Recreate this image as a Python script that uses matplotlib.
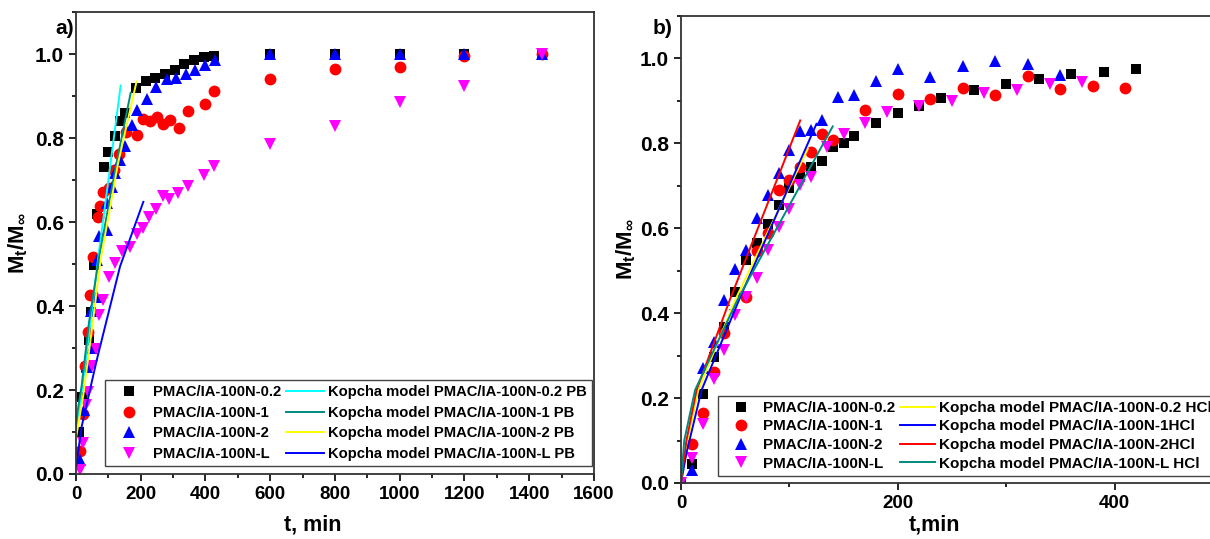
import matplotlib
matplotlib.use('Agg')
import matplotlib.pyplot as plt
from matplotlib.ticker import MultipleLocator

plt.rcParams['font.family'] = ['Liberation Sans', 'DejaVu Sans']
plt.rcParams['font.weight'] = 'bold'
plt.rcParams['mathtext.fontset'] = 'custom'
plt.rcParams['mathtext.rm'] = 'Liberation Sans'
plt.rcParams['mathtext.bf'] = 'Liberation Sans:bold'

# ---- panel a) data (PB) ----
a_t_02 = [10, 20, 30, 40, 45, 55, 65, 85, 100, 120, 135, 150, 185, 215, 245, 275, 305, 335, 365, 395, 425, 600, 800, 1000, 1200, 1440]
a_v_02 = [0.10, 0.184, 0.255, 0.319, 0.386, 0.498, 0.62, 0.73, 0.767, 0.804, 0.841, 0.859, 0.918, 0.936, 0.944, 0.952, 0.963, 0.976, 0.986, 0.992, 0.995, 1.0, 1.0, 1.0, 1.0, 1.0]
a_t_1 = [12, 23, 27, 38, 43, 54, 69, 74, 84, 103, 118, 134, 155, 187, 208, 228, 249, 270, 289, 318, 347, 398, 427, 600, 800, 1000, 1200, 1440]
a_v_1 = [0.055, 0.144, 0.257, 0.339, 0.426, 0.517, 0.613, 0.638, 0.672, 0.68, 0.724, 0.763, 0.815, 0.808, 0.845, 0.841, 0.849, 0.834, 0.843, 0.825, 0.864, 0.882, 0.912, 0.94, 0.964, 0.968, 0.995, 1.0]
a_t_2 = [12, 25, 35, 45, 48, 64, 66, 72, 95, 97, 110, 120, 136, 151, 172, 187, 218, 247, 280, 309, 340, 367, 398, 429, 600, 800, 1000, 1200, 1440]
a_v_2 = [0.033, 0.152, 0.255, 0.387, 0.30, 0.422, 0.51, 0.567, 0.58, 0.645, 0.684, 0.716, 0.748, 0.781, 0.831, 0.867, 0.892, 0.922, 0.94, 0.944, 0.952, 0.963, 0.974, 0.986, 1.0, 1.0, 1.0, 1.0, 1.0]
a_t_L = [12, 23, 31, 38, 51, 62, 72, 84, 103, 120, 143, 167, 187, 206, 226, 247, 268, 288, 316, 347, 396, 427, 600, 800, 1000, 1200, 1440]
a_v_L = [0.01, 0.073, 0.164, 0.196, 0.257, 0.297, 0.379, 0.414, 0.47, 0.503, 0.531, 0.541, 0.571, 0.585, 0.613, 0.63, 0.662, 0.654, 0.67, 0.686, 0.712, 0.733, 0.786, 0.829, 0.886, 0.924, 1.0]

# Kopcha model curves read off panel a)
a_mt_02 = [1, 10, 35, 69, 100, 138]
a_mv_02 = [0.10, 0.15, 0.30, 0.517, 0.70, 0.925]
a_mt_1 = [1, 5, 17.5, 40, 70, 120, 169]
a_mv_1 = [0.12, 0.15, 0.21, 0.36, 0.51, 0.72, 0.908]
a_mt_2 = [1, 23, 50, 76, 130, 187]
a_mv_2 = [0.09, 0.19, 0.35, 0.51, 0.74, 0.934]
a_mt_L = [1, 17.5, 64, 136, 208]
a_mv_L = [0.02, 0.113, 0.271, 0.494, 0.648]

# ---- panel b) data (HCl) ----
b_t_02 = [0, 10, 20, 30, 40, 50, 60, 70, 80, 90, 100, 110, 120, 130, 140, 150, 160, 180, 200, 220, 240, 270, 300, 330, 360, 390, 420]
b_v_02 = [0.0, 0.044, 0.209, 0.297, 0.368, 0.449, 0.526, 0.565, 0.609, 0.656, 0.696, 0.721, 0.745, 0.758, 0.791, 0.801, 0.817, 0.849, 0.872, 0.887, 0.907, 0.925, 0.94, 0.952, 0.964, 0.968, 0.976]
b_t_1 = [10, 20, 30, 40, 60, 70, 80, 90, 100, 110, 120, 130, 140, 170, 200, 230, 260, 290, 320, 350, 380, 410]
b_v_1 = [0.092, 0.164, 0.262, 0.354, 0.437, 0.546, 0.589, 0.689, 0.713, 0.744, 0.78, 0.821, 0.807, 0.879, 0.917, 0.904, 0.931, 0.915, 0.958, 0.929, 0.936, 0.931]
b_t_2 = [10, 20, 30, 40, 50, 60, 70, 80, 90, 100, 110, 120, 130, 145, 160, 180, 200, 230, 260, 290, 320, 350]
b_v_2 = [0.031, 0.27, 0.332, 0.431, 0.503, 0.55, 0.625, 0.678, 0.73, 0.784, 0.829, 0.832, 0.854, 0.909, 0.915, 0.948, 0.976, 0.956, 0.982, 0.994, 0.987, 0.96]
b_t_L = [0, 10, 20, 30, 40, 50, 60, 70, 80, 90, 100, 110, 120, 135, 150, 170, 190, 220, 250, 280, 310, 340, 370]
b_v_L = [0.0, 0.058, 0.14, 0.246, 0.313, 0.395, 0.438, 0.482, 0.55, 0.602, 0.646, 0.701, 0.721, 0.791, 0.823, 0.849, 0.874, 0.889, 0.90, 0.919, 0.925, 0.94, 0.944]

b_mt_02 = [0, 5, 16, 50, 117]
b_mv_02 = [0.0, 0.09, 0.219, 0.431, 0.787]
b_mt_1 = [0, 5, 19, 55, 125]
b_mv_1 = [0.0, 0.07, 0.219, 0.44, 0.846]
b_mt_2 = [0, 5, 14.4, 45, 110]
b_mv_2 = [0.0, 0.10, 0.219, 0.431, 0.854]
b_mt_L = [0, 3, 13, 52, 140]
b_mv_L = [0.0, 0.10, 0.219, 0.431, 0.84]

samples = ['PMAC/IA-100N-0.2', 'PMAC/IA-100N-1', 'PMAC/IA-100N-2', 'PMAC/IA-100N-L']
a_model_labels = ['Kopcha model PMAC/IA-100N-0.2 PB', 'Kopcha model PMAC/IA-100N-1 PB',
                  'Kopcha model PMAC/IA-100N-2 PB', 'Kopcha model PMAC/IA-100N-L PB']
b_model_labels = ['Kopcha model PMAC/IA-100N-0.2 HCl', 'Kopcha model PMAC/IA-100N-1HCl',
                  'Kopcha model PMAC/IA-100N-2HCl', 'Kopcha model PMAC/IA-100N-L HCl']

markers = [('s', 'black', 7.5), ('o', 'red', 8.5), ('^', 'blue', 8.5), ('v', 'magenta', 8.5)]
a_line_colors = ['cyan', '#008B80', 'yellow', 'blue']
b_line_colors = ['yellow', 'blue', 'red', '#008B80']

fig = plt.figure(figsize=(12.1, 5.39), dpi=100)
ax1 = fig.add_axes([0.0628, 0.1206, 0.4281, 0.8571])
ax2 = fig.add_axes([0.5628, 0.1039, 0.4479, 0.8664])


def draw(ax, data, models, line_colors, line_labels, fs_leg, leg_anchor, spacing, hl):
    handles = []
    for (t, v), (m, c, ms), lab in zip(data, markers, samples):
        h, = ax.plot(t, v, linestyle='none', marker=m, color=c, markersize=ms,
                     markeredgewidth=0, label=lab)
        handles.append(h)
    for (t, v), c, lab in zip(models, line_colors, line_labels):
        h, = ax.plot(t, v, color=c, lw=1.4, label=lab)
        handles.append(h)
    ax.legend(handles=handles, ncol=2, loc='lower left', bbox_to_anchor=leg_anchor,
              borderaxespad=0, fontsize=fs_leg, frameon=True, fancybox=False,
              edgecolor='#444444', handlelength=hl, handletextpad=0.3,
              columnspacing=0.3, labelspacing=spacing, borderpad=0.35, framealpha=1)
    for s in ax.spines.values():
        s.set_linewidth(1.3)
        s.set_color('#333333')
    ax.tick_params(which='both', direction='out', top=False, right=False, width=1.2)
    ax.tick_params(axis='x', labelsize=13.5)
    ax.tick_params(axis='y', labelsize=15)
    ax.tick_params(which='major', length=5)
    ax.tick_params(which='minor', length=3)
    ax.yaxis.set_major_locator(MultipleLocator(0.2))
    ax.yaxis.set_minor_locator(MultipleLocator(0.1))
    ax.set_ylim(0, 1.1)


draw(ax1, [(a_t_02, a_v_02), (a_t_1, a_v_1), (a_t_2, a_v_2), (a_t_L, a_v_L)],
     [(a_mt_02, a_mv_02), (a_mt_1, a_mv_1), (a_mt_2, a_mv_2), (a_mt_L, a_mv_L)],
     a_line_colors, a_model_labels, 10.6, (0.056, 0.017), 0.45, 2.6)
ax1.set_xlim(0, 1600)
ax1.xaxis.set_major_locator(MultipleLocator(200))
ax1.xaxis.set_minor_locator(MultipleLocator(100))
ax1.set_xlabel('t, min', fontsize=15.5, fontweight='bold')
ax1.xaxis.set_label_coords(0.457, -0.088)
ax1.set_ylabel(r'$\mathbf{M_t/M_\infty}$', fontsize=16)
ax1.yaxis.set_label_coords(-0.089, 0.5)

draw(ax2, [(b_t_02, b_v_02), (b_t_1, b_v_1), (b_t_2, b_v_2), (b_t_L, b_v_L)],
     [(b_mt_02, b_mv_02), (b_mt_1, b_mv_1), (b_mt_2, b_mv_2), (b_mt_L, b_mv_L)],
     b_line_colors, b_model_labels, 11, (0.068, 0.015), 0.3, 2.3)
ax2.set_xlim(0, 500)
ax2.xaxis.set_major_locator(MultipleLocator(200))
ax2.xaxis.set_minor_locator(MultipleLocator(100))
ax2.set_xlabel('t,min', fontsize=15.5, fontweight='bold')
ax2.xaxis.set_label_coords(0.467, -0.068)
ax2.set_ylabel(r'$\mathrm{M_t/M_\infty}$', fontsize=16)
ax2.yaxis.set_label_coords(-0.079, 0.5)

fig.text(0.046, 0.948, 'a)', fontsize=15, fontweight='bold', va='center')
fig.text(0.539, 0.948, 'b)', fontsize=15, fontweight='bold', va='center')

fig.savefig('out.png', dpi=100)
